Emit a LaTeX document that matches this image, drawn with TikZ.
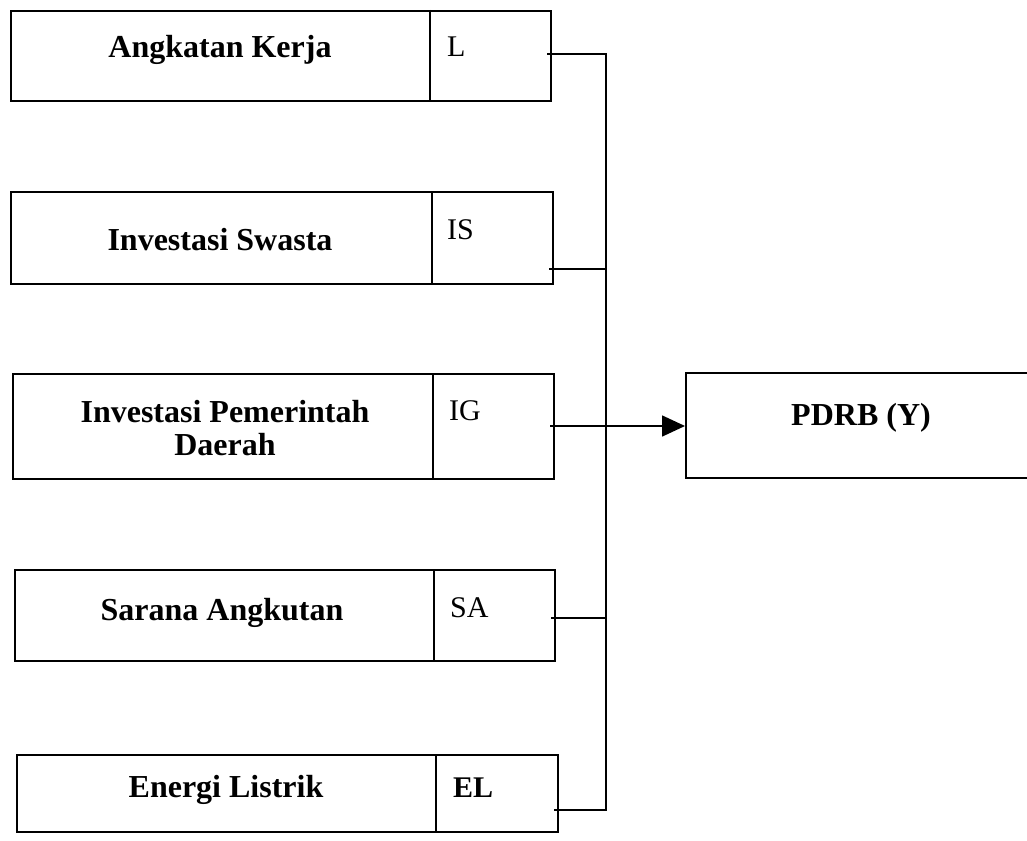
\documentclass[tikz,border=0pt]{standalone}
\usepackage{fontspec}
\setmainfont{Liberation Serif}
\usetikzlibrary{arrows.meta,calc}
\begin{document}
\begin{tikzpicture}[x=1pt,y=-1pt,
  box/.style={draw, line width=1.6pt, anchor=north west, inner sep=0pt},
  lbl/.style={font=\fontsize{32}{33}\selectfont\bfseries, anchor=base, align=center, inner sep=0pt},
  sym/.style={font=\fontsize{30}{33}\selectfont, anchor=base west, inner sep=0pt},
  wire/.style={line width=1.6pt},
]
\useasboundingbox (0,0) rectangle (1027,840);
\clip (0,0) rectangle (1027,840);
% boxes
\node[box, minimum width=540pt, minimum height=90pt] (b1) at (10,10) {};
\node[box, minimum width=542pt, minimum height=92pt] (b2) at (10,191) {};
\node[box, minimum width=541pt, minimum height=105pt] (b3) at (12,373) {};
\node[box, minimum width=540pt, minimum height=91pt] (b4) at (14,569) {};
\node[box, minimum width=541pt, minimum height=77pt] (b5) at (16,754) {};
\node[box, minimum width=360pt, minimum height=105pt] (p) at (685,372) {};
% dividers
\draw[wire] ($(b1.north west)+(420,0)$) -- ($(b1.south west)+(420,0)$);
\draw[wire] ($(b2.north west)+(422,0)$) -- ($(b2.south west)+(422,0)$);
\draw[wire] ($(b3.north west)+(421,0)$) -- ($(b3.south west)+(421,0)$);
\draw[wire] ($(b4.north west)+(420,0)$) -- ($(b4.south west)+(420,0)$);
\draw[wire] ($(b5.north west)+(420,0)$) -- ($(b5.south west)+(420,0)$);
% texts
\node[lbl] (t1) at (220,58) {Angkatan Kerja};
\node[sym] (s1) at (447,57) {L};
\node[lbl] (t2) at (220,250) {Investasi Swasta};
\node[sym] (s2) at (447,239) {IS};
\node[lbl] (t3) at (225,455) {Investasi Pemerintah\\Daerah};
\node[sym] (s3) at (449,420) {IG};
\node[lbl] (t4) at (222,620) {Sarana Angkutan};
\node[sym] (s4) at (450,617) {SA};
\node[lbl] (t5) at (226,797) {Energi Listrik};
\node[sym, font=\fontsize{30}{33}\selectfont\bfseries] (s5) at (453,797) {EL};
\node[lbl] (tp) at (861,425) {PDRB (Y)};
% connectors
\coordinate (c1) at (547,54);
\coordinate (c2) at (549,269);
\coordinate (c3) at (550,426);
\coordinate (c4) at (551,618);
\coordinate (c5) at (554,810);
\coordinate (top) at (606,54);
\coordinate (bot) at (606,810);
\draw[wire] (c1) -- (top) -- (bot) -- (c5);
\draw[wire] (c2) -- (c2 -| top);
\draw[wire] (c4) -- (c4 -| top);
\draw[wire, -{Triangle[length=23pt,width=21pt]}] (c3) -- (c3 -| p.west);
\end{tikzpicture}
\end{document}
